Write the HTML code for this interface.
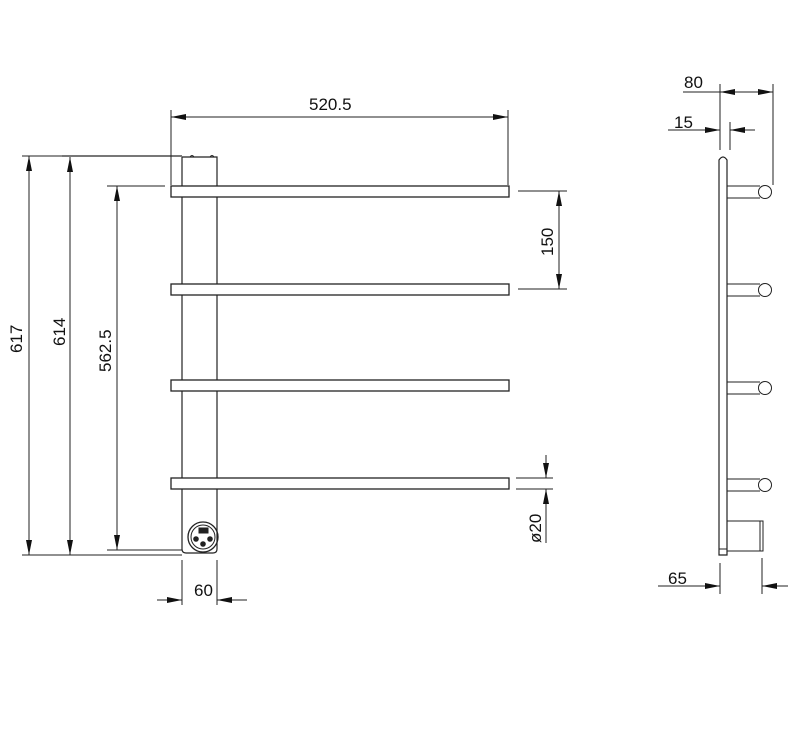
<!DOCTYPE html>
<html><head><meta charset="utf-8"><style>html,body{margin:0;padding:0;background:#fff}svg{display:block}text{font-family:"Liberation Sans",sans-serif;font-size:17px;fill:#111}</style></head><body>
<svg width="800" height="730" viewBox="0 0 800 730" xmlns="http://www.w3.org/2000/svg">
<defs>
<marker id="a" viewBox="0 0 10 4" refX="10" refY="2" markerWidth="16" markerHeight="6" markerUnits="userSpaceOnUse" orient="auto-start-reverse"><path d="M0,0 L10,2 L0,4 z" fill="#111"/></marker>
</defs>
<g stroke="#222" stroke-width="1" fill="none">
<path d="M182,157 H217 V549 Q217,553 213,553 H186 Q182,553 182,549 Z" stroke-width="1.2"/>
<path d="M62,156 H182" stroke="#777" stroke-width="2"/>
<path d="M190,157 q2,-3 4,0 M210,157 q2,-3 4,0"/>
<rect x="171" y="186" width="338" height="11" fill="#fff" stroke-width="1.3"/>
<rect x="171" y="284" width="338" height="11" fill="#fff" stroke-width="1.3"/>
<rect x="171" y="380" width="338" height="11" fill="#fff" stroke-width="1.3"/>
<rect x="171" y="478" width="338" height="11" fill="#fff" stroke-width="1.3"/>
<circle cx="203" cy="537" r="15" stroke-width="1.3"/>
<circle cx="203" cy="537" r="12"/>
<rect x="199" y="528" width="9" height="5" fill="#222"/>
<circle cx="196" cy="539" r="2.3" fill="#222"/>
<circle cx="210" cy="539" r="2.3" fill="#222"/>
<circle cx="203" cy="544" r="2.3" fill="#222"/>
<path d="M171,110 V185 M508,110 V185"/>
<path d="M171,117 H508" marker-start="url(#a)" marker-end="url(#a)"/>
<path d="M22,156 H62 M22,555 H182 M107,186 H165 M107,550 H182"/>
<path d="M29,156 V555" marker-start="url(#a)" marker-end="url(#a)"/>
<path d="M70,157 V555" marker-start="url(#a)" marker-end="url(#a)"/>
<path d="M117,186 V550" marker-start="url(#a)" marker-end="url(#a)"/>
<path d="M518,191 H567 M518,289 H567"/>
<path d="M559,191 V289" marker-start="url(#a)" marker-end="url(#a)"/>
<path d="M516,478 H553 M516,489 H553"/>
<path d="M546,455 V478" marker-end="url(#a)"/>
<path d="M546,543 V489" marker-end="url(#a)"/>
<path d="M182,560 V605 M217,560 V605"/>
<path d="M157,600 H182" marker-end="url(#a)"/>
<path d="M247,600 H217" marker-end="url(#a)"/>
<path d="M719,160 Q723,154 727,160 V555 H719 Z" stroke-width="1.2"/>
<path d="M719,549 H727"/>
<g>
<path d="M727,186 H760 M727,198 H760"/><circle cx="765" cy="192" r="6.5" fill="#fff"/>
<path d="M727,284 H760 M727,296 H760"/><circle cx="765" cy="290" r="6.5" fill="#fff"/>
<path d="M727,382 H760 M727,394 H760"/><circle cx="765" cy="388" r="6.5" fill="#fff"/>
<path d="M727,479 H760 M727,491 H760"/><circle cx="765" cy="485" r="6.5" fill="#fff"/>
</g>
<path d="M727,521 H763 V551 H727"/><path d="M760,521 V551"/>
<path d="M720,84 V150 M773,84 V185 M730,122 V150"/>
<path d="M683,92 H720"/>
<path d="M746,92 H720" marker-end="url(#a)"/>
<path d="M746,92 H773" marker-end="url(#a)"/>
<path d="M668,130 H720" marker-end="url(#a)"/>
<path d="M755,130 H730" marker-end="url(#a)"/>
<path d="M720,563 V594 M762,558 V594"/>
<path d="M658,586 H720" marker-end="url(#a)"/>
<path d="M788,586 H762" marker-end="url(#a)"/>
</g>
<text x="309" y="110">520.5</text>
<text transform="translate(22,353) rotate(-90)">617</text>
<text transform="translate(65,346) rotate(-90)">614</text>
<text transform="translate(111,372) rotate(-90)">562.5</text>
<text transform="translate(553,256) rotate(-90)">150</text>
<text transform="translate(541,543) rotate(-90)">ø20</text>
<text x="194" y="596">60</text>
<text x="684" y="88">80</text>
<text x="674" y="128">15</text>
<text x="668" y="584">65</text>
</svg>
</body></html>
